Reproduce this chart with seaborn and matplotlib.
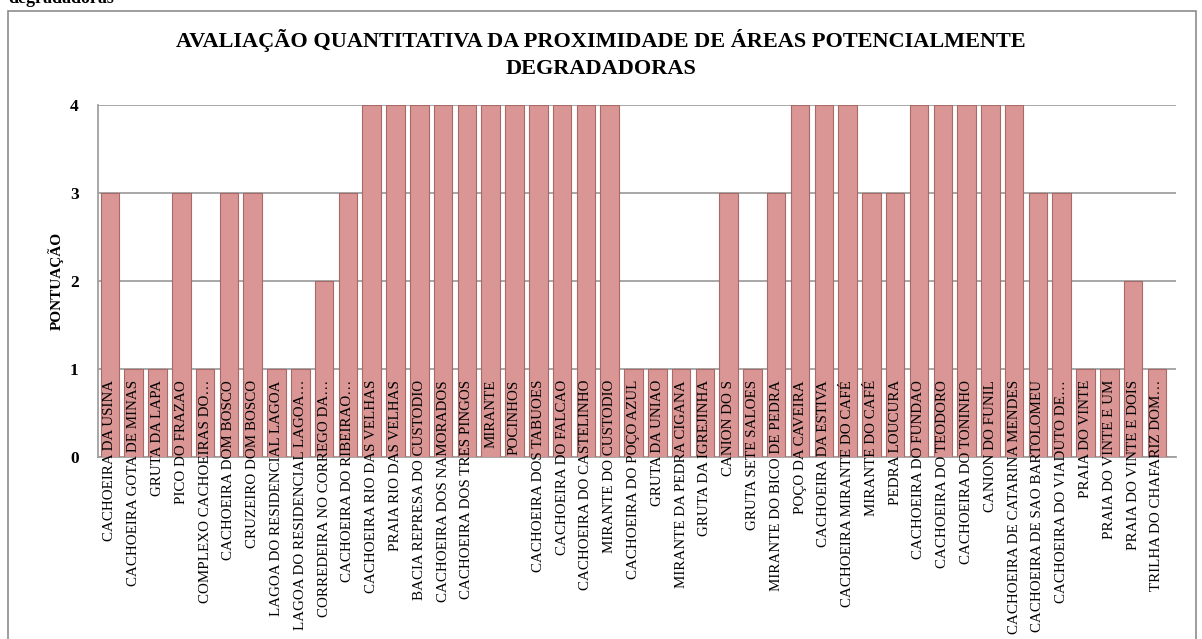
import matplotlib
matplotlib.use("Agg")
import matplotlib.pyplot as plt
import seaborn as sns
import pandas as pd
from matplotlib.patches import Rectangle

categories = [
    "CACHOEIRA DA USINA", "CACHOEIRA GOTA DE MINAS", "GRUTA DA LAPA", "PICO DO FRAZAO",
    "COMPLEXO CACHOEIRAS DO…", "CACHOEIRA DOM BOSCO", "CRUZEIRO DOM BOSCO",
    "LAGOA DO RESIDENCIAL LAGOA", "LAGOA DO RESIDENCIAL LAGOA…", "CORREDEIRA NO CORREGO DA…",
    "CACHOEIRA DO RIBEIRAO…", "CACHOEIRA RIO DAS VELHAS", "PRAIA RIO DAS VELHAS",
    "BACIA REPRESA DO CUSTODIO", "CACHOEIRA DOS NAMORADOS", "CACHOEIRA DOS TRES PINGOS",
    "MIRANTE", "POCINHOS", "CACHOEIRA DOS TABUOES", "CACHOEIRA DO FALCAO",
    "CACHOEIRA DO CASTELINHO", "MIRANTE DO CUSTODIO", "CACHOEIRA DO POÇO AZUL",
    "GRUTA DA UNIAO", "MIRANTE DA PEDRA CIGANA", "GRUTA DA IGREJINHA", "CANION DO S",
    "GRUTA SETE SALOES", "MIRANTE DO BICO DE PEDRA", "POÇO DA CAVEIRA", "CACHOEIRA DA ESTIVA",
    "CACHOEIRA MIRANTE DO CAFÉ", "MIRANTE DO CAFÉ", "PEDRA LOUCURA", "CACHOEIRA DO FUNDAO",
    "CACHOEIRA DO TEODORO", "CACHOEIRA DO TONINHO", "CANION DO FUNIL",
    "CACHOEIRA DE CATARINA MENDES", "CACHOEIRA DE SAO BARTOLOMEU", "CACHOEIRA DO VIADUTO DE…",
    "PRAIA DO VINTE", "PRAIA DO VINTE E UM", "PRAIA DO VINTE E DOIS", "TRILHA DO CHAFARIZ DOM…",
]
scores = [3, 1, 1, 3, 1, 3, 3, 1, 1, 2, 3, 4, 4, 4, 4, 4, 4, 4, 4, 4, 4, 4,
          1, 1, 1, 1, 3, 1, 3, 4, 4, 4, 3, 3, 4, 4, 4, 4, 4, 3, 3, 1, 1, 2, 1]
y_ticks = [0, 1, 2, 3, 4]

title = "AVALIAÇÃO QUANTITATIVA DA PROXIMIDADE DE ÁREAS POTENCIALMENTE\nDEGRADADORAS"
y_label = "PONTUAÇÃO"

sns.set_theme(style="white")
serif = ["Liberation Serif", "DejaVu Serif"]
plt.rcParams["font.family"] = serif
plt.rcParams["text.color"] = "black"
plt.rcParams["axes.labelcolor"] = "black"
plt.rcParams["ytick.color"] = "black"

W, H = 1202, 639
fig = plt.figure(figsize=(W / 100, H / 100), dpi=100)

# axes: left 98px, right 1176px, top (value 4) 105px, bottom (value 0) 457px
ax = fig.add_axes([98 / W, 1 - 457 / H, (1176 - 98) / W, (457 - 105) / H])

df = pd.DataFrame({"cat": categories, "score": scores})
sns.barplot(data=df, x="cat", y="score", color="#D99694", saturation=1,
            width=0.78, edgecolor="#A86967", linewidth=0.8, ax=ax, zorder=3)

ax.set_xlim(-0.5, len(categories) - 0.5 + 0.3)
ax.set_ylim(0, 4)
ax.set_yticks(y_ticks)
ax.set_yticklabels([str(t) for t in y_ticks], fontsize=12.5, fontweight="bold")
ax.tick_params(axis="y", length=0, pad=14)
ax.set_xticks([])
ax.set_xlabel("")
ax.set_ylabel(y_label, fontsize=11, fontweight="bold", labelpad=4)
ax.yaxis.grid(True, color="#A0A0A0", linewidth=1.3)
ax.set_axisbelow(True)
for s in ["top", "right"]:
    ax.spines[s].set_visible(False)
for s in ["left", "bottom"]:
    ax.spines[s].set_color("#A0A0A0")
    ax.spines[s].set_linewidth(1.3)

# category labels drawn over the bars, top-aligned just below value 1
for i, lab in enumerate(categories):
    ax.text(i, 0.875, lab, rotation=90, ha="center", va="top", fontsize=10.8,
            family=serif, color="black", clip_on=False, zorder=6)

fig.suptitle(title, x=0.5, y=1 - 29 / H, va="top", fontsize=16, fontweight="bold",
             linespacing=1.5, color="black")

# chart border
fig.patches.append(Rectangle((8 / W, -0.01), (1196 - 8) / W, 1 - 11 / H + 0.01,
                             transform=fig.transFigure, fill=False,
                             edgecolor="#8C8C8C", linewidth=1.2))
# cut-off caption of the document above the chart
fig.text(8 / W, 1 - 3 / H, "degradadoras", ha="left", va="baseline",
         fontsize=13, fontweight="bold", color="black")

fig.savefig("out.png", dpi=100)
